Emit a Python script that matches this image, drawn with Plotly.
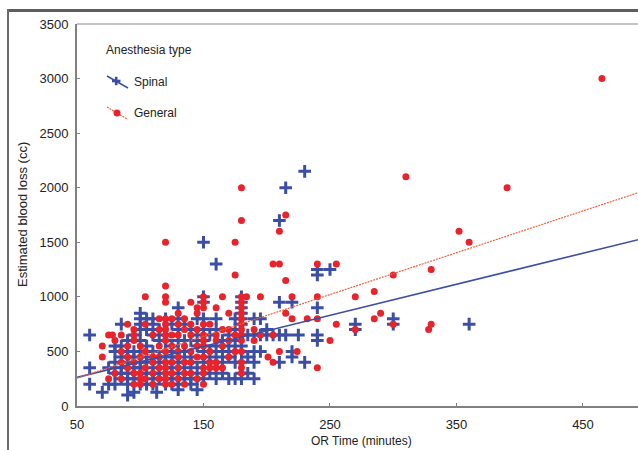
import plotly.graph_objects as go

# ---------------- data ----------------
spinal_time = (
    [60, 60, 60, 70, 75, 75]
    + [80] * 5 + [85] * 6 + [90] * 8 + [95] * 7 + [100] * 11 + [105] * 7
    + [110] * 8 + [113] + [115] * 6 + [120] * 8 + [125] * 7 + [130] * 11
    + [135] * 6 + [140] * 7 + [145] * 6 + [150] * 12 + [155] * 4 + [160] * 7
    + [165] * 4 + [170] * 4 + [175] * 6 + [180] * 12 + [185] * 3 + [190] * 5
    + [195] * 3 + [200] * 2 + [205] + [210] * 4 + [215] * 2 + [220] * 3
    + [225] + [230] * 2 + [240] * 5 + [250] + [270] * 2 + [300] * 2 + [360]
)
spinal_ebl = [
    650, 350, 200, 125, 200, 350,
    200, 300, 400, 500, 550,
    750, 250, 350, 450, 550, 300,
    100, 200, 250, 300, 400, 450, 500, 600,
    125, 250, 300, 350, 450, 500, 650,
    850, 800, 750, 700, 600, 500, 400, 350, 300, 250, 200,
    800, 700, 550, 450, 400, 300, 200,
    800, 750, 650, 500, 350, 300, 250, 200,
    125,
    700, 600, 450, 400, 300, 250,
    800, 650, 600, 500, 400, 350, 250, 200,
    750, 550, 450, 350, 300, 250, 200,
    900, 800, 700, 600, 500, 450, 400, 300, 250, 200, 150,
    750, 600, 500, 400, 350, 250,
    700, 600, 450, 400, 300, 250, 200,
    150, 800, 650, 550, 350, 250,
    1500, 1000, 950, 800, 700, 600, 550, 500, 450, 400, 300, 250,
    650, 500, 400, 300,
    1300, 800, 700, 550, 450, 350, 250,
    600, 500, 400, 300,
    650, 550, 450, 250,
    800, 700, 600, 500, 400, 250,
    1000, 950, 900, 850, 800, 750, 650, 550, 500, 400, 300, 250,
    650, 450, 300,
    800, 650, 500, 400, 250,
    800, 650, 500,
    700, 650,
    650,
    1700, 950, 650, 400,
    2000, 650,
    950, 500, 450,
    650,
    2150, 400,
    1250, 1200, 900, 650, 600,
    1250,
    750, 700,
    800, 750,
    750,
]

general_time = (
    [70, 70, 75, 75, 78, 80, 80]
    + [85] * 4 + [90] * 4 + [95] * 6 + [100] * 5 + [104] * 5 + [110] * 5
    + [115] * 6 + [120] * 15 + [125] * 6 + [130] * 7 + [135] * 6 + [140] * 6
    + [145] * 6 + [150] * 11 + [155] * 4 + [160] * 5 + [165] * 4 + [170] * 4
    + [175] * 4 + [180] * 15 + [184] + [190] * 2 + [195] * 2 + [201]
    + [205] * 3 + [210] * 3 + [215] * 3 + [220] * 2 + [224] + [232]
    + [240] * 4 + [250] + [255] * 2 + [270] * 2 + [285] * 2 + [290]
    + [300] * 2 + [310] + [328] + [330] * 2 + [352] + [360] + [390] + [465]
)
general_ebl = [
    450, 550, 250, 650, 650, 600, 300,
    400, 650, 500, 250,
    750, 350, 450, 550,
    700, 650, 600, 400, 300, 200,
    550, 450, 300, 250, 200,
    1000, 750, 500, 350, 250,
    650, 450, 400, 300, 200,
    800, 700, 550, 450, 350, 250,
    1500, 1100, 1000, 950, 800, 750, 700, 650, 600, 500, 400, 350, 300, 250, 200,
    800, 650, 550, 400, 300, 200,
    850, 750, 650, 500, 450, 350, 250,
    800, 700, 550, 400, 300, 200,
    950, 750, 650, 500, 400, 300,
    900, 850, 700, 550, 450, 250,
    1000, 950, 900, 750, 650, 600, 550, 450, 350, 300, 200,
    750, 500, 400, 350,
    900, 650, 600, 400, 350,
    1000, 700, 550, 350,
    850, 700, 600, 450,
    1500, 1200, 650, 500,
    2000, 1700, 1000, 950, 900, 850, 800, 750, 700, 650, 600, 500, 400, 350, 300,
    1000,
    700, 600,
    1000, 650,
    450,
    1300, 650, 400,
    1600, 1300, 500,
    1750, 1150, 850,
    1000, 800,
    500,
    800,
    1300, 1000, 800, 350,
    600,
    1300, 750,
    1000, 700,
    1050, 800,
    850,
    1200, 750,
    2100,
    700,
    1250, 750,
    1600,
    1500,
    2000,
    3000,
]

fit_time = [50, 494]
spinal_fit = [262, 1525]
general_fit = [255, 1956]

x_ticks = [50, 150, 250, 350, 450]
y_ticks = [0, 500, 1000, 1500, 2000, 2500, 3000, 3500]

BLUE = "#3b4ea6"
RED = "#e8232b"
RED_LINE = "#f0603c"

fig = go.Figure()
fig.add_trace(go.Scatter(
    x=spinal_time, y=spinal_ebl, mode="markers", name="Spinal",
    marker=dict(symbol="cross-thin", size=9, color=BLUE,
                line=dict(color=BLUE, width=3)),
))
fig.add_trace(go.Scatter(
    x=general_time, y=general_ebl, mode="markers", name="General",
    marker=dict(symbol="circle", size=7, color=RED, line=dict(width=0)),
))
fig.add_trace(go.Scatter(
    x=fit_time, y=spinal_fit, mode="lines", showlegend=False,
    line=dict(color=BLUE, width=1.6),
))
fig.add_trace(go.Scatter(
    x=fit_time, y=general_fit, mode="lines", showlegend=False,
    line=dict(color=RED_LINE, width=1.2, dash="2px,1px"),
))

L, T, B = 77, 24, 44
W, H = 638, 450
PW, PH = W - L, H - T - B


def px(x):
    return (x - L) / PW


def py(y):
    return (H - B - y) / PH


shapes = [
    # outer frame (top and left edges)
    dict(type="rect", xref="paper", yref="paper",
         x0=px(7), y0=py(12), x1=px(638), y1=py(9),
         fillcolor="#5e5e5e", line=dict(width=0)),
    dict(type="rect", xref="paper", yref="paper",
         x0=px(7), y0=py(450), x1=px(9), y1=py(9),
         fillcolor="#6a6a6a", line=dict(width=0)),
    # top border of plot box
    dict(type="line", xref="paper", yref="paper",
         x0=0, y0=1, x1=1.01, y1=1, line=dict(color="#b0b0b0", width=1.5)),
    # legend symbols
    dict(type="line", xref="paper", yref="paper",
         x0=px(107), y0=py(76), x1=px(128), y1=py(88),
         line=dict(color=BLUE, width=1.6)),
    dict(type="line", xref="paper", yref="paper",
         x0=px(112), y0=py(81), x1=px(120.5), y1=py(81),
         line=dict(color=BLUE, width=2.6)),
    dict(type="line", xref="paper", yref="paper",
         x0=px(116.2), y0=py(76.8), x1=px(116.2), y1=py(85.2),
         line=dict(color=BLUE, width=2.6)),
    dict(type="line", xref="paper", yref="paper",
         x0=px(107), y0=py(107), x1=px(127), y1=py(119),
         line=dict(color=RED_LINE, width=1.2, dash="2px,1px")),
    dict(type="circle", xref="paper", yref="paper",
         x0=px(113.5), y0=py(109.5), x1=px(120.5), y1=py(116.5),
         fillcolor=RED, line=dict(width=0)),
]

font_family = "Liberation Sans, Arial, sans-serif"
annotations = [
    dict(text="Anesthesia type", xref="paper", yref="paper", x=px(104), y=py(50),
         xanchor="left", yanchor="middle", showarrow=False,
         font=dict(size=12, color="#222")),
    dict(text="Spinal", xref="paper", yref="paper", x=px(132), y=py(82),
         xanchor="left", yanchor="middle", showarrow=False,
         font=dict(size=12, color="#222")),
    dict(text="General", xref="paper", yref="paper", x=px(132), y=py(113),
         xanchor="left", yanchor="middle", showarrow=False,
         font=dict(size=12, color="#222")),
    # axis titles
    dict(text="OR Time (minutes)", xref="paper", yref="paper", x=px(361), y=py(441),
         xanchor="center", yanchor="middle", showarrow=False,
         font=dict(size=12, color="#222")),
    dict(text="Estimated blood loss (cc)", xref="paper", yref="paper",
         x=px(22), y=py(215), textangle=-90,
         xanchor="center", yanchor="middle", showarrow=False,
         font=dict(size=13, color="#222")),
]

fig.update_layout(
    width=W, height=H,
    margin=dict(l=L, r=0, t=T, b=B, pad=0),
    paper_bgcolor="white", plot_bgcolor="white",
    font=dict(family=font_family, color="#222"),
    showlegend=False,
    shapes=shapes, annotations=annotations,
    xaxis=dict(
        range=[50, 493.5], tickvals=x_ticks, ticktext=[str(v) for v in x_ticks],
        automargin=False,
        showgrid=False, zeroline=False, showline=True, linecolor="#808080",
        linewidth=2, ticks="inside", ticklen=3, tickcolor="#808080",
        tickfont=dict(size=13, color="#222"), ticklabelstandoff=5,
    ),
    yaxis=dict(
        range=[0, 3500], tickvals=y_ticks, ticktext=[str(v) for v in y_ticks],
        automargin=False,
        showgrid=False, zeroline=False, showline=True, linecolor="#808080",
        linewidth=2, ticks="inside", ticklen=3, tickcolor="#808080",
        tickfont=dict(size=13, color="#222"), ticklabelstandoff=4,
    ),
)

fig.write_html(
    "out.html",
    config={"displayModeBar": False},
    post_script="document.body.style.margin='0';document.body.style.overflow='hidden';",
)
